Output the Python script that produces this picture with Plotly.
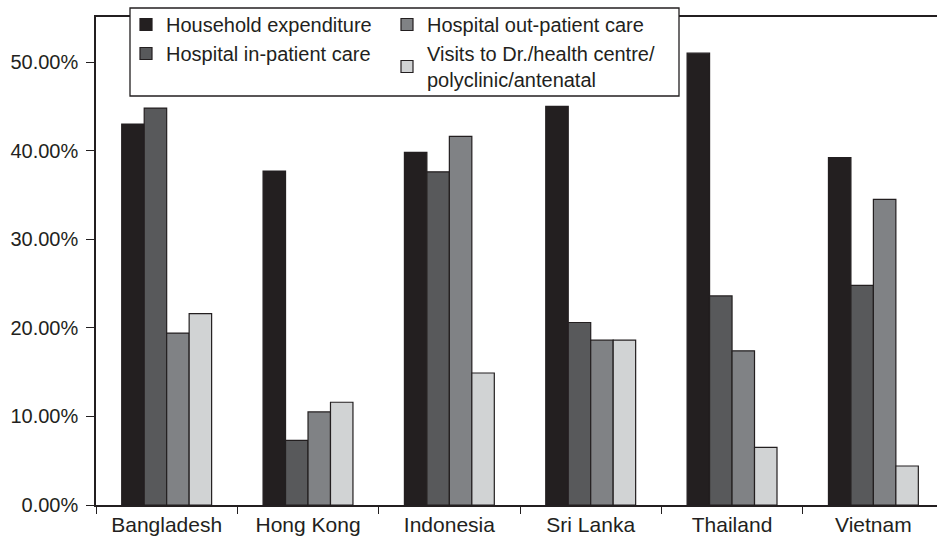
import plotly.graph_objects as go

countries = ["Bangladesh", "Hong Kong", "Indonesia", "Sri Lanka", "Thailand", "Vietnam"]
household = [43.0, 37.7, 39.8, 45.0, 51.0, 39.2]
inpatient = [44.8, 7.3, 37.6, 20.6, 23.6, 24.8]
outpatient = [19.4, 10.5, 41.6, 18.6, 17.4, 34.5]
visits = [21.6, 11.6, 14.9, 18.6, 6.5, 4.4]

names = ["Household expenditure", "Hospital in-patient care",
         "Hospital out-patient care", "Visits to Dr./health centre/<br>polyclinic/antenatal"]
colors = ["#231f20", "#58595b", "#808285", "#d1d3d4"]
legends = ["legend", "legend", "legend2", "legend2"]
series = [household, inpatient, outpatient, visits]

FONT = "Liberation Sans, Arial, sans-serif"

fig = go.Figure()
for nm, col, lg, vals in zip(names, colors, legends, series):
    fig.add_trace(go.Bar(
        x=countries, y=vals, name=nm, legend=lg,
        marker=dict(color=col, line=dict(color="#231f20", width=1.2)),
    ))

W, H = 937, 545
L, R, T, B = 96, 0, 17, 40
pw, ph = W - L - R, H - T - B

def px_x(x):
    return (x - L) / pw

def px_y(y):
    return (H - B - y) / ph

legend_common = dict(
    font=dict(family=FONT, size=20, color="#231f20"),
    bgcolor="rgba(0,0,0,0)", borderwidth=0,
    xanchor="left", yanchor="top", orientation="v",
    itemclick=False, itemdoubleclick=False, tracegroupgap=0,
)

fig.update_layout(
    width=W, height=H,
    margin=dict(l=L, r=R, t=T, b=B),
    paper_bgcolor="white", plot_bgcolor="white",
    font=dict(family=FONT, size=20, color="#231f20"),
    barmode="group", bargap=0.364, bargroupgap=0,
    showlegend=True,
    legend=dict(x=px_x(126), y=px_y(5), **legend_common),
    legend2=dict(x=px_x(387), y=px_y(5), **legend_common),
    xaxis=dict(
        range=[-0.5, 5.45], showline=True, linecolor="#231f20", linewidth=1.5,
        mirror=True, ticks="outside", tickson="boundaries", ticklen=7,
        tickcolor="#231f20", tickwidth=1.2, showgrid=False,
        tickfont=dict(family=FONT, size=21, color="#231f20"),
    ),
    yaxis=dict(
        range=[0, 55.08], dtick=10, tickformat=".2f", ticksuffix="%",
        showline=True, linecolor="#231f20", linewidth=1.5, mirror=False,
        ticks="outside", ticklen=8, tickcolor="#231f20", tickwidth=1.2,
        showgrid=False, zeroline=False, ticklabelstandoff=4,
        tickfont=dict(family=FONT, size=20, color="#231f20"),
    ),
    shapes=[dict(
        type="rect", xref="paper", yref="paper",
        x0=px_x(130), x1=px_x(679), y0=px_y(96), y1=px_y(8),
        fillcolor="white", line=dict(color="#231f20", width=1.3), layer="above",
    )],
)

fig.write_html("out.html")
